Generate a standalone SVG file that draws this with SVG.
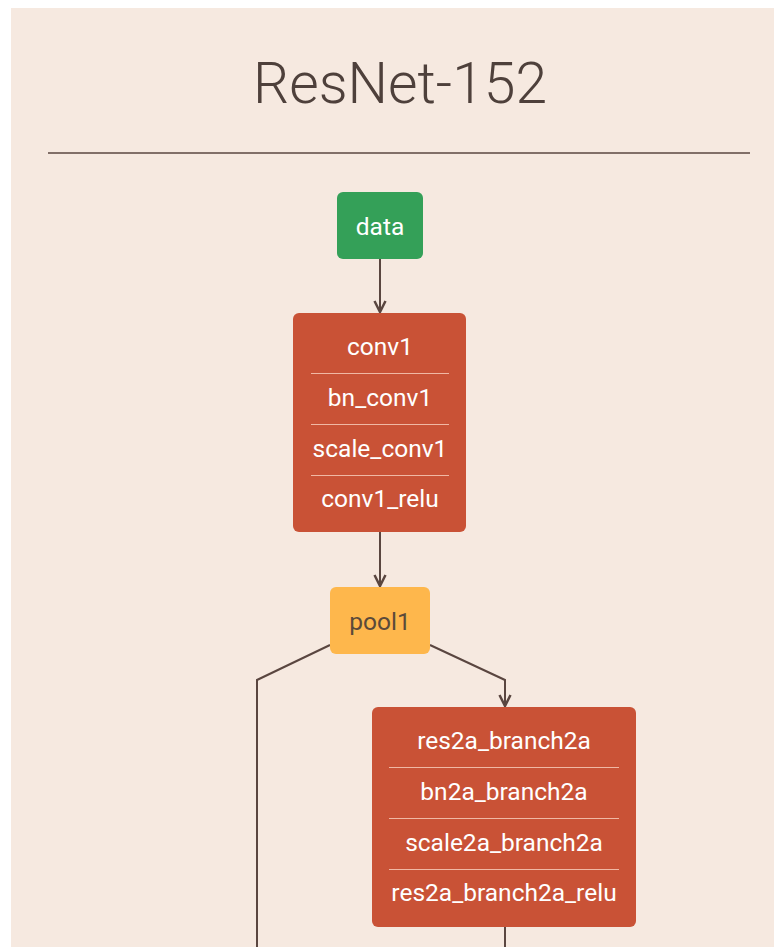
<svg xmlns="http://www.w3.org/2000/svg" width="774" height="947" viewBox="0 0 774 947">
<defs>
<style>
.bg{fill:#f6e9e0}
.title{font-family:Roboto,"Liberation Sans",sans-serif;font-weight:300;font-size:57px;fill:#4e403b;text-anchor:middle}
.lbl{font-family:Roboto,"Liberation Sans",sans-serif;font-size:24.5px;fill:#ffffff;text-anchor:middle}
.dark{fill:#5b4a3a}
.edge{fill:none;stroke:#5a4640;stroke-width:2}
.sep{stroke:#f0b8a4;stroke-width:1}
.red{fill:#c95236}
</style>
<marker id="arr" viewBox="0 0 14 14" refX="12" refY="7" markerWidth="14" markerHeight="14" markerUnits="userSpaceOnUse" orient="auto">
<path d="M1,1.5 L12,7 L1,12.5" fill="none" stroke="#5a4640" stroke-width="2.5"/>
</marker>
</defs>
<rect class="bg" x="11" y="8" width="763" height="939"/>
<text class="title" x="400" y="103">ResNet-152</text>
<line x1="48" y1="153" x2="750" y2="153" stroke="#5a4640" stroke-width="1.5"/>
<g id="connectors">
<path class="edge" d="M380,259 V312" marker-end="url(#arr)"/>
<path class="edge" d="M380,532 V586" marker-end="url(#arr)"/>
<path class="edge" d="M330,645 L257,680 V947"/>
<path class="edge" d="M430,645 L505,680 V706" marker-end="url(#arr)"/>
<path class="edge" d="M505,927 V947"/>
</g>
<g id="data">
<rect x="337" y="192" width="86" height="67" rx="6" fill="#34a058"/>
<text class="lbl" x="380" y="235">data</text>
</g>
<g id="conv1">
<rect class="red" x="293" y="313" width="173" height="219" rx="6"/>
<text class="lbl" x="380" y="355">conv1</text>
<line class="sep" x1="311" y1="373.5" x2="449" y2="373.5"/>
<text class="lbl" x="380" y="406">bn_conv1</text>
<line class="sep" x1="311" y1="424.5" x2="449" y2="424.5"/>
<text class="lbl" x="380" y="457">scale_conv1</text>
<line class="sep" x1="311" y1="475.5" x2="449" y2="475.5"/>
<text class="lbl" x="380" y="507">conv1_relu</text>
</g>
<g id="pool1">
<rect x="330" y="587" width="100" height="67" rx="6" fill="#feb74c"/>
<text class="lbl dark" x="380" y="630">pool1</text>
</g>
<g id="res2a_branch2a">
<rect class="red" x="372" y="707" width="264" height="220" rx="6"/>
<text class="lbl" x="504" y="749">res2a_branch2a</text>
<line class="sep" x1="389" y1="767.5" x2="619" y2="767.5"/>
<text class="lbl" x="504" y="800">bn2a_branch2a</text>
<line class="sep" x1="389" y1="818.5" x2="619" y2="818.5"/>
<text class="lbl" x="504" y="851">scale2a_branch2a</text>
<line class="sep" x1="389" y1="869.5" x2="619" y2="869.5"/>
<text class="lbl" x="504" y="901">res2a_branch2a_relu</text>
</g>
</svg>
